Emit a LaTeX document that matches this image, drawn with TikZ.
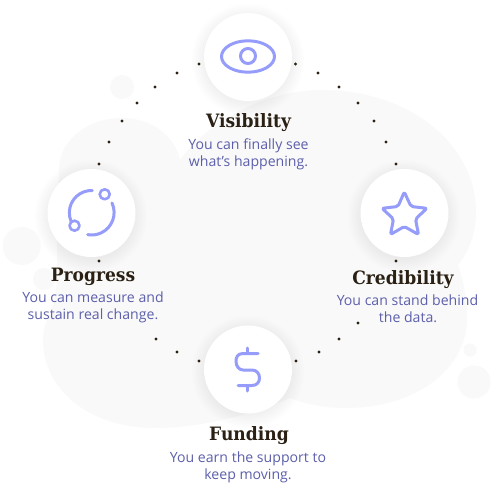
\documentclass[tikz,border=0pt]{standalone}
\usepackage{fontspec}
\setmainfont{Open Sans}
\newfontfamily\headfont{DejaVu Serif}[BoldFont={DejaVu Serif Bold}]
\usetikzlibrary{calc}
\definecolor{blob}{HTML}{F9F9F9}
\definecolor{icon}{HTML}{959CFA}
\definecolor{headc}{HTML}{2A2114}
\definecolor{descc}{HTML}{5C5FAB}
\tikzset{
  x=1pt,y=-1pt,
  blobfill/.style={fill=blob,draw=none},
  ring/.style={circle,fill=white,draw=none,minimum size=88pt,inner sep=0pt},
  ic/.style={draw=icon,line width=3pt,line cap=round,line join=round,fill=none},
  head/.style={anchor=base,inner sep=0pt,font=\headfont\bfseries\fontsize{18.4}{20}\selectfont,text=headc,xscale=.93},
  desc/.style={anchor=base,inner sep=0pt,font=\fontsize{14.1}{16}\selectfont,text=descc},
  dotn/.style={circle,fill=headc,minimum size=3.4pt,inner sep=0pt}
}
\newcommand{\softshadow}[2]{%
  \foreach \r in {56,54,52,50,48,46,44}{\fill[black,opacity=.006] (#1,#2+3) circle[radius=\r];}%
}
\begin{document}
\begin{tikzpicture}
\useasboundingbox (0,0) rectangle (493,489);
\fill[white] (0,0) rectangle (493,489);
% background blobs
\fill[blobfill] (59,170) .. controls (59,140) and (88,118) .. (122,118)
  .. controls (150,118) and (175,135) .. (180,160)
  .. controls (205,125) and (262,90) .. (322,90)
  .. controls (410,90) and (476,145) .. (476,212)
  .. controls (476,232) and (470,250) .. (458,265)
  .. controls (464,282) and (467,300) .. (467,318)
  .. controls (467,370) and (415,408) .. (345,408)
  .. controls (325,408) and (305,404) .. (290,398)
  .. controls (250,415) and (200,428) .. (155,428)
  .. controls (90,428) and (43,390) .. (43,340)
  .. controls (43,330) and (46,322) .. (50,314)
  .. controls (55,300) and (57,290) .. (57,270)
  -- (57,250) -- cycle;
\fill[blobfill] (122,87) circle[radius=12];
\fill[blobfill] (21.7,246) circle[radius=19];
\fill[blobfill] (44,279) circle[radius=11];
\fill[blobfill] (470,350) circle[radius=6.5];
\fill[blobfill] (474,382) circle[radius=16.5];
% shadows and discs
\softshadow{248}{57}\softshadow{91}{213}\softshadow{404}{213}\softshadow{248}{369}
\node[ring] (vis) at (248,57) {};
\node[ring] (prog) at (91.5,213) {};
\node[ring] (cred) at (404.5,213) {};
\node[ring] (fund) at (248,369.5) {};
% dots
\foreach \n/\a/\b in {a/199/64,b/177/73,c/155/87,d/137/103,e/122/121,f/109/142,g/99/164,
  h/295.5/64,i/318/73,j/339/87,k/358/103,l/374/121,m/386/142,n/396/164,
  o/99/261,p/396/261,q/358/323,r/339/339,s/319/352,t/296/361,u/199/361,v/177/352,w/156/339}{
  \node[dotn] (dot\n) at (\a,\b) {};
}
% eye
\draw[ic] (248,56.5) ellipse[x radius=26.5,y radius=15.7];
\draw[ic] (248,56) circle[radius=7.5];
% progress
\draw[ic] (92.3,190.5) arc[start angle=-88,end angle=-205,radius=22.2];
\draw[ic] (112,203) arc[start angle=-25,end angle=100,radius=22.5];
\draw[ic,line width=2.6pt] (74.5,225.7) circle[radius=5];
\draw[ic,line width=2.6pt] (104.7,194.3) circle[radius=5];
% star
\draw[ic,rounded corners=2pt] (404.3,192) -- (411,206.5) -- (427,208.3) -- (415.5,219) -- (418.5,234.5) -- (404.3,226.5) -- (390.5,234.5) -- (393.5,219) -- (382,208.3) -- (398,206.5) -- cycle;
% dollar
\draw[ic] (247.7,348) -- (247.7,353);
\draw[ic] (247.7,386) -- (247.7,391);
\draw[ic] (258,353.5) -- (243,353.5) .. controls (237,353.5) and (236,358) .. (236,361.5) .. controls (236,366) and (239,370) .. (243,370) -- (252,370)
  .. controls (257,370) and (259.5,374) .. (259.5,378) .. controls (259.5,382) and (257,385.5) .. (252,385.5) -- (238,385.5);
% text
\node[head] (t1) at (248.5,127.7) {Visibility};
\node[desc] (d1a) at (248.5,149.7) {You can finally see};
\node[desc] (d1b) at (248.5,166.7) {what’s happening.};
\node[head] (t2) at (93,281.7) {Progress};
\node[desc] (d2a) at (93,302.7) {You can measure and};
\node[desc] (d2b) at (93,319.7) {sustain real change.};
\node[head] (t3) at (403,284.7) {Credibility};
\node[desc] (d3a) at (407.5,305.7) {You can stand behind};
\node[desc] (d3b) at (408,322.7) {the data.};
\node[head] (t4) at (249,440.7) {Funding};
\node[desc] (d4a) at (248,462.7) {You earn the support to};
\node[desc] (d4b) at (248,479.7) {keep moving.};
\end{tikzpicture}
\end{document}
